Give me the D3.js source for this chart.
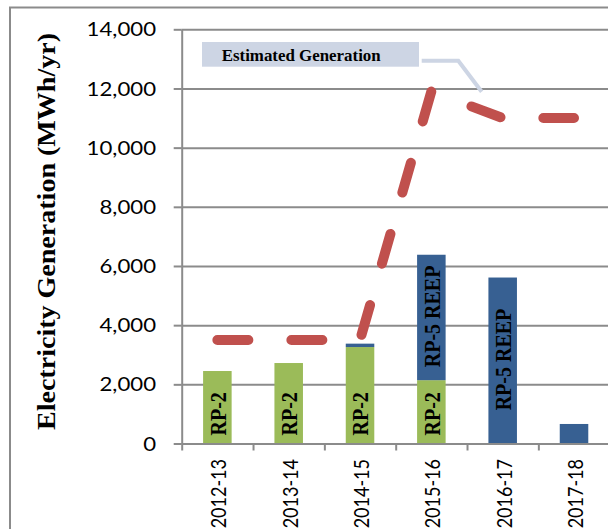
<!DOCTYPE html>
<html>
<head>
<meta charset="utf-8">
<script src="https://cdn.jsdelivr.net/npm/d3@7"></script>
<style>
  html, body { margin: 0; padding: 0; background: #ffffff; }
  svg { display: block; }
</style>
</head>
<body>
<svg id="chart" width="608" height="529"></svg>
<script>
// ---- data ----
const categories = ["2012-13", "2013-14", "2014-15", "2015-16", "2016-17", "2017-18"];
const rp2Values = [2450, 2720, 3260, 2140, 0, 0];
const rp5Values = [0, 0, 115, 4240, 5610, 660];
const estimatedGeneration = [3500, 3500, 3500, 11900, 11000, 11000];
const yTickValues = [0, 2000, 4000, 6000, 8000, 10000, 12000, 14000];
const seriesKeys = ["rp2", "rp5"];
const seriesLabels = ["RP-2", "RP-5 REEP"];
const legendLabel = "Estimated Generation";
const yTitle = "Electricity Generation (MWh/yr)";

// ---- layout / style ----
const W = 608, H = 529;
const X0 = 181.7, STEP = 71.33, X1 = X0 + STEP * categories.length;
const Y0 = 443.5, YTOP = 29.3;
const SX = 1.2; // horizontal glyph stretch seen in the reference
const gridColor = "#8b8b8b";
const colors = { rp2: "#9BBB59", rp5: "#376092" };
const lineColor = "#C0504D";
const legendFill = "#CDD5E4";

const svg = d3.select("#chart");

// outer frame
svg.append("path")
  .attr("d", `M10,${H + 5} L10,7.5 L${W + 5},7.5`)
  .attr("fill", "none").attr("stroke", gridColor).attr("stroke-width", 2);

const x = d3.scaleBand().domain(categories).range([X0, X1])
  .paddingInner(0.6).paddingOuter(0.3);
const xEdge = d3.scaleLinear().domain([0, categories.length]).range([X0, X1]);
const y = d3.scaleLinear().domain([0, 14000]).range([Y0, YTOP]);

// gridlines
const grid = svg.append("g").attr("transform", `translate(${X0},0)`)
  .call(d3.axisLeft(y).tickValues(yTickValues.filter(d => d > 0))
    .tickSize(-(W - X0 + 10)).tickFormat(""));
grid.select(".domain").remove();
grid.selectAll("line").attr("stroke", gridColor).attr("stroke-width", 2);

// bars
const rows = categories.map((c, i) => ({ cat: c, rp2: rp2Values[i], rp5: rp5Values[i] }));
const stacked = d3.stack().keys(seriesKeys)(rows);
const barG = svg.append("g");
stacked.forEach((layer, li) => {
  barG.selectAll(null).data(layer.filter(d => d[1] - d[0] > 0)).enter().append("rect")
    .attr("x", d => x(d.data.cat))
    .attr("width", x.bandwidth())
    .attr("y", d => y(d[1]))
    .attr("height", d => y(d[0]) - y(d[1]))
    .attr("fill", colors[layer.key]);
});

// bar labels
const labelG = svg.append("g")
  .style("font-family", "'Liberation Serif', 'Times New Roman', serif")
  .style("font-weight", "bold").style("font-size", "20px").attr("fill", "#000");
// RP-2 labels sit near the base of the green segments
stacked[0].filter(d => d[1] - d[0] > 0).forEach(d => {
  const cx = x(d.data.cat) + x.bandwidth() / 2;
  labelG.append("text")
    .attr("transform", `translate(${cx},${y(d[0]) - 8}) scale(${SX},1) rotate(-90)`)
    .attr("dy", "0.35em").attr("text-anchor", "start").text(seriesLabels[0]);
});
// RP-5 REEP labels centred in large blue segments
stacked[1].filter(d => d[1] - d[0] > 3000).forEach(d => {
  const cx = x(d.data.cat) + x.bandwidth() / 2;
  const cy = (y(d[0]) + y(d[1])) / 2 - 1;
  labelG.append("text")
    .attr("transform", `translate(${cx},${cy}) scale(${SX},1) rotate(-90)`)
    .attr("dy", "0.35em").attr("text-anchor", "middle").text(seriesLabels[1]);
});

// y axis
const yAxis = svg.append("g").attr("transform", `translate(${X0},0)`)
  .call(d3.axisLeft(y).tickValues(yTickValues).tickSize(8).tickSizeOuter(0)
    .tickFormat(d3.format(",")));
yAxis.select(".domain").attr("stroke", gridColor).attr("stroke-width", 2);
yAxis.selectAll(".tick line").attr("stroke", gridColor).attr("stroke-width", 2);
yAxis.selectAll(".tick text")
  .attr("x", -25.7 / SX).attr("dy", "0.36em")
  .attr("transform", `scale(${SX},1)`)
  .style("font-family", "Lato, 'Open Sans', sans-serif")
  .style("font-size", "18.5px").attr("fill", "#000");

// x axis (labels at centres)
const xAxis = svg.append("g").attr("transform", `translate(0,${Y0})`)
  .call(d3.axisBottom(x).tickSize(0).tickSizeOuter(0));
xAxis.select(".domain").attr("stroke", gridColor).attr("stroke-width", 2);
xAxis.selectAll(".tick text")
  .attr("x", 0).attr("y", 0).attr("dy", "0.35em")
  .attr("transform", `translate(1.5,15.5) scale(${SX},1) rotate(-90)`)
  .attr("text-anchor", "end")
  .style("font-family", "Lato, 'Open Sans', sans-serif")
  .style("font-size", "18px").attr("fill", "#000");

// x axis boundary ticks
const xTicks = svg.append("g").attr("transform", `translate(0,${Y0})`)
  .call(d3.axisBottom(xEdge).tickValues(d3.range(categories.length + 1))
    .tickSize(7).tickFormat(""));
xTicks.select(".domain").remove();
xTicks.selectAll("line").attr("stroke", gridColor).attr("stroke-width", 2);

// estimated generation dashed line
const line = d3.line()
  .x((d, i) => x(categories[i]) + x.bandwidth() / 2)
  .y(d => y(d));
svg.append("path")
  .datum(estimatedGeneration)
  .attr("d", line)
  .attr("fill", "none")
  .attr("stroke", lineColor)
  .attr("stroke-width", 10)
  .attr("stroke-linecap", "round")
  .attr("stroke-linejoin", "round")
  .attr("stroke-dasharray", "31,43");

// legend / callout
const lg = svg.append("g");
lg.append("rect").attr("x", 202).attr("y", 42).attr("width", 217).attr("height", 24.7)
  .attr("fill", legendFill);
lg.append("path")
  .attr("d", "M421.7,60.7 L458.3,60.7 L481.7,91.7")
  .attr("fill", "none").attr("stroke", legendFill).attr("stroke-width", 4);
lg.append("text").attr("x", 221.7).attr("y", 60.5)
  .attr("textLength", 159).attr("lengthAdjust", "spacingAndGlyphs")
  .style("font-family", "'Liberation Serif', 'Times New Roman', serif")
  .style("font-weight", "bold").style("font-size", "16px").attr("fill", "#000")
  .text(legendLabel);

// y axis title
svg.append("text")
  .attr("transform", `translate(55,430) scale(${SX},1) rotate(-90)`)
  .attr("text-anchor", "start")
  .attr("textLength", 397).attr("lengthAdjust", "spacingAndGlyphs")
  .style("font-family", "'Liberation Serif', 'Times New Roman', serif")
  .style("font-weight", "bold").style("font-size", "21px").attr("fill", "#000")
  .text(yTitle);
</script>
</body>
</html>
